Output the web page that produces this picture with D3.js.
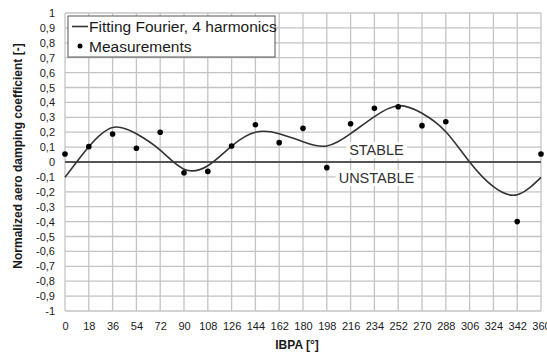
<!DOCTYPE html>
<html>
<head>
<meta charset="utf-8">
<script src="https://cdn.jsdelivr.net/npm/d3@7"></script>
<style>
  body { margin: 0; background: #fff; }
  text { font-family: Arial, "Liberation Sans", sans-serif; }
</style>
</head>
<body>
<svg id="chart" width="547" height="353"></svg>
<script>
const xTicks = [0, 18, 36, 54, 72, 90, 108, 126, 144, 162, 180, 198, 216, 234, 252, 270, 288, 306, 324, 342, 360];
const yTicks = [-1, -0.9, -0.8, -0.7, -0.6, -0.5, -0.4, -0.3, -0.2, -0.1, 0, 0.1, 0.2, 0.3, 0.4, 0.5, 0.6, 0.7, 0.8, 0.9, 1];

// measured points (IBPA in degrees)
const measAngle = [0, 18, 36, 54, 72, 90, 108, 126, 144, 162, 180, 198, 216, 234, 252, 270, 288, 342, 360];
const measValue = [0.054, 0.103, 0.188, 0.092, 0.2, -0.072, -0.063, 0.107, 0.25, 0.13, 0.226, -0.038, 0.257, 0.36, 0.371, 0.244, 0.27, -0.40, 0.054];

// fitted curve at each grid line
const fitAngle = [0, 18, 36, 54, 72, 90, 108, 126, 144, 162, 180, 198, 216, 234, 252, 270, 288, 306, 324, 342, 360];
const fitValue = [-0.103, 0.103, 0.232, 0.19, 0.08, -0.048, -0.025, 0.107, 0.2, 0.19, 0.136, 0.107, 0.19, 0.305, 0.378, 0.327, 0.203, 0.0, -0.166, -0.22, -0.103];

const legendLabels = ["Fitting Fourier, 4 harmonics", "Measurements"];

const svg = d3.select("#chart");
const margin = { top: 13, right: 6, bottom: 42, left: 65 };
const width = 547 - margin.left - margin.right;
const height = 353 - margin.top - margin.bottom;

const g = svg.append("g")
  .attr("transform", `translate(${margin.left},${margin.top})`);

const x = d3.scaleLinear().domain([0, 360]).range([0, width]);
const y = d3.scaleLinear().domain([-1, 1]).range([height, 0]);

// grid
g.append("g")
  .selectAll("line")
  .data(xTicks)
  .enter()
  .append("line")
  .attr("x1", d => x(d)).attr("x2", d => x(d))
  .attr("y1", 0).attr("y2", height)
  .attr("stroke", "#c4c4c4")
  .attr("stroke-width", 1.3);

g.append("g")
  .selectAll("line")
  .data(yTicks)
  .enter()
  .append("line")
  .attr("x1", 0).attr("x2", width)
  .attr("y1", d => y(d)).attr("y2", d => y(d))
  .attr("stroke", "#c4c4c4")
  .attr("stroke-width", 1.3);

// axes labels
const fmt = d => d3.format(".1~f")(d).replace(".", ",").replace("−", "-");

const yAxis = g.append("g")
  .call(d3.axisLeft(y).tickValues(yTicks).tickSize(0).tickPadding(10).tickFormat(fmt));
yAxis.select(".domain").remove();
yAxis.selectAll("text")
  .attr("font-size", 11)
  .attr("fill", "#1a1a1a")
  .style("font-family", "Arial, 'Liberation Sans', sans-serif");

const xAxis = g.append("g")
  .attr("transform", `translate(0,${height})`)
  .call(d3.axisBottom(x).tickValues(xTicks).tickSize(0).tickPadding(11).tickFormat(d3.format("d")));
xAxis.select(".domain").remove();
xAxis.selectAll("text")
  .attr("font-size", 11)
  .attr("fill", "#1a1a1a")
  .style("font-family", "Arial, 'Liberation Sans', sans-serif");

// zero line
g.append("line")
  .attr("x1", 0).attr("x2", width)
  .attr("y1", y(0)).attr("y2", y(0))
  .attr("stroke", "#555")
  .attr("stroke-width", 2);

// STABLE / UNSTABLE labels with white boxes
const zoneLabels = [{ t: "STABLE", v: 0.045 }, { t: "UNSTABLE", v: -0.142 }];
zoneLabels.forEach(z => {
  const txt = g.append("text")
    .attr("x", x(234) + 2)
    .attr("y", y(z.v))
    .attr("text-anchor", "middle")
    .attr("font-size", 14.5)
    .attr("fill", "#333")
    .text(z.t);
  const bb = txt.node().getBBox();
  g.insert("rect", () => txt.node())
    .attr("x", bb.x - 3).attr("y", bb.y)
    .attr("width", bb.width + 6).attr("height", bb.height)
    .attr("fill", "#fff");
});

// fitted curve
const pts = fitAngle.map((a, i) => [a, fitValue[i]]);
const line = d3.line()
  .x(d => x(d[0]))
  .y(d => y(d[1]))
  .curve(d3.curveNatural);

g.append("path")
  .datum(pts)
  .attr("fill", "none")
  .attr("stroke", "#333")
  .attr("stroke-width", 1.6)
  .attr("d", line);

// measurements
g.selectAll(".pt")
  .data(measAngle)
  .enter()
  .append("circle")
  .attr("cx", d => x(d))
  .attr("cy", (d, i) => y(measValue[i]))
  .attr("r", 2.8)
  .attr("fill", "#000");

// legend
const lg = svg.append("g").attr("transform", "translate(68,16)");
lg.append("rect")
  .attr("width", 207).attr("height", 41)
  .attr("fill", "#fff")
  .attr("stroke", "#555")
  .attr("stroke-width", 1);
lg.append("line")
  .attr("x1", 4).attr("x2", 20)
  .attr("y1", 10.5).attr("y2", 10.5)
  .attr("stroke", "#333").attr("stroke-width", 1.6);
lg.append("circle")
  .attr("cx", 12).attr("cy", 30)
  .attr("r", 2.5).attr("fill", "#000");
lg.selectAll(".lt")
  .data(legendLabels)
  .enter()
  .append("text")
  .attr("x", 21)
  .attr("y", (d, i) => 16 + i * 20)
  .attr("font-size", 15.5)
  .attr("fill", "#1a1a1a")
  .text(d => d);

// axis titles
svg.append("text")
  .attr("transform", `translate(22,156) rotate(-90)`)
  .attr("text-anchor", "middle")
  .attr("font-size", 12)
  .attr("font-weight", "bold")
  .attr("fill", "#1a1a1a")
  .text("Normalized aero damping coefficient [-]");

svg.append("text")
  .attr("x", 297)
  .attr("y", 349)
  .attr("text-anchor", "middle")
  .attr("font-size", 12)
  .attr("font-weight", "bold")
  .attr("fill", "#1a1a1a")
  .text("IBPA [°]");
</script>
</body>
</html>
